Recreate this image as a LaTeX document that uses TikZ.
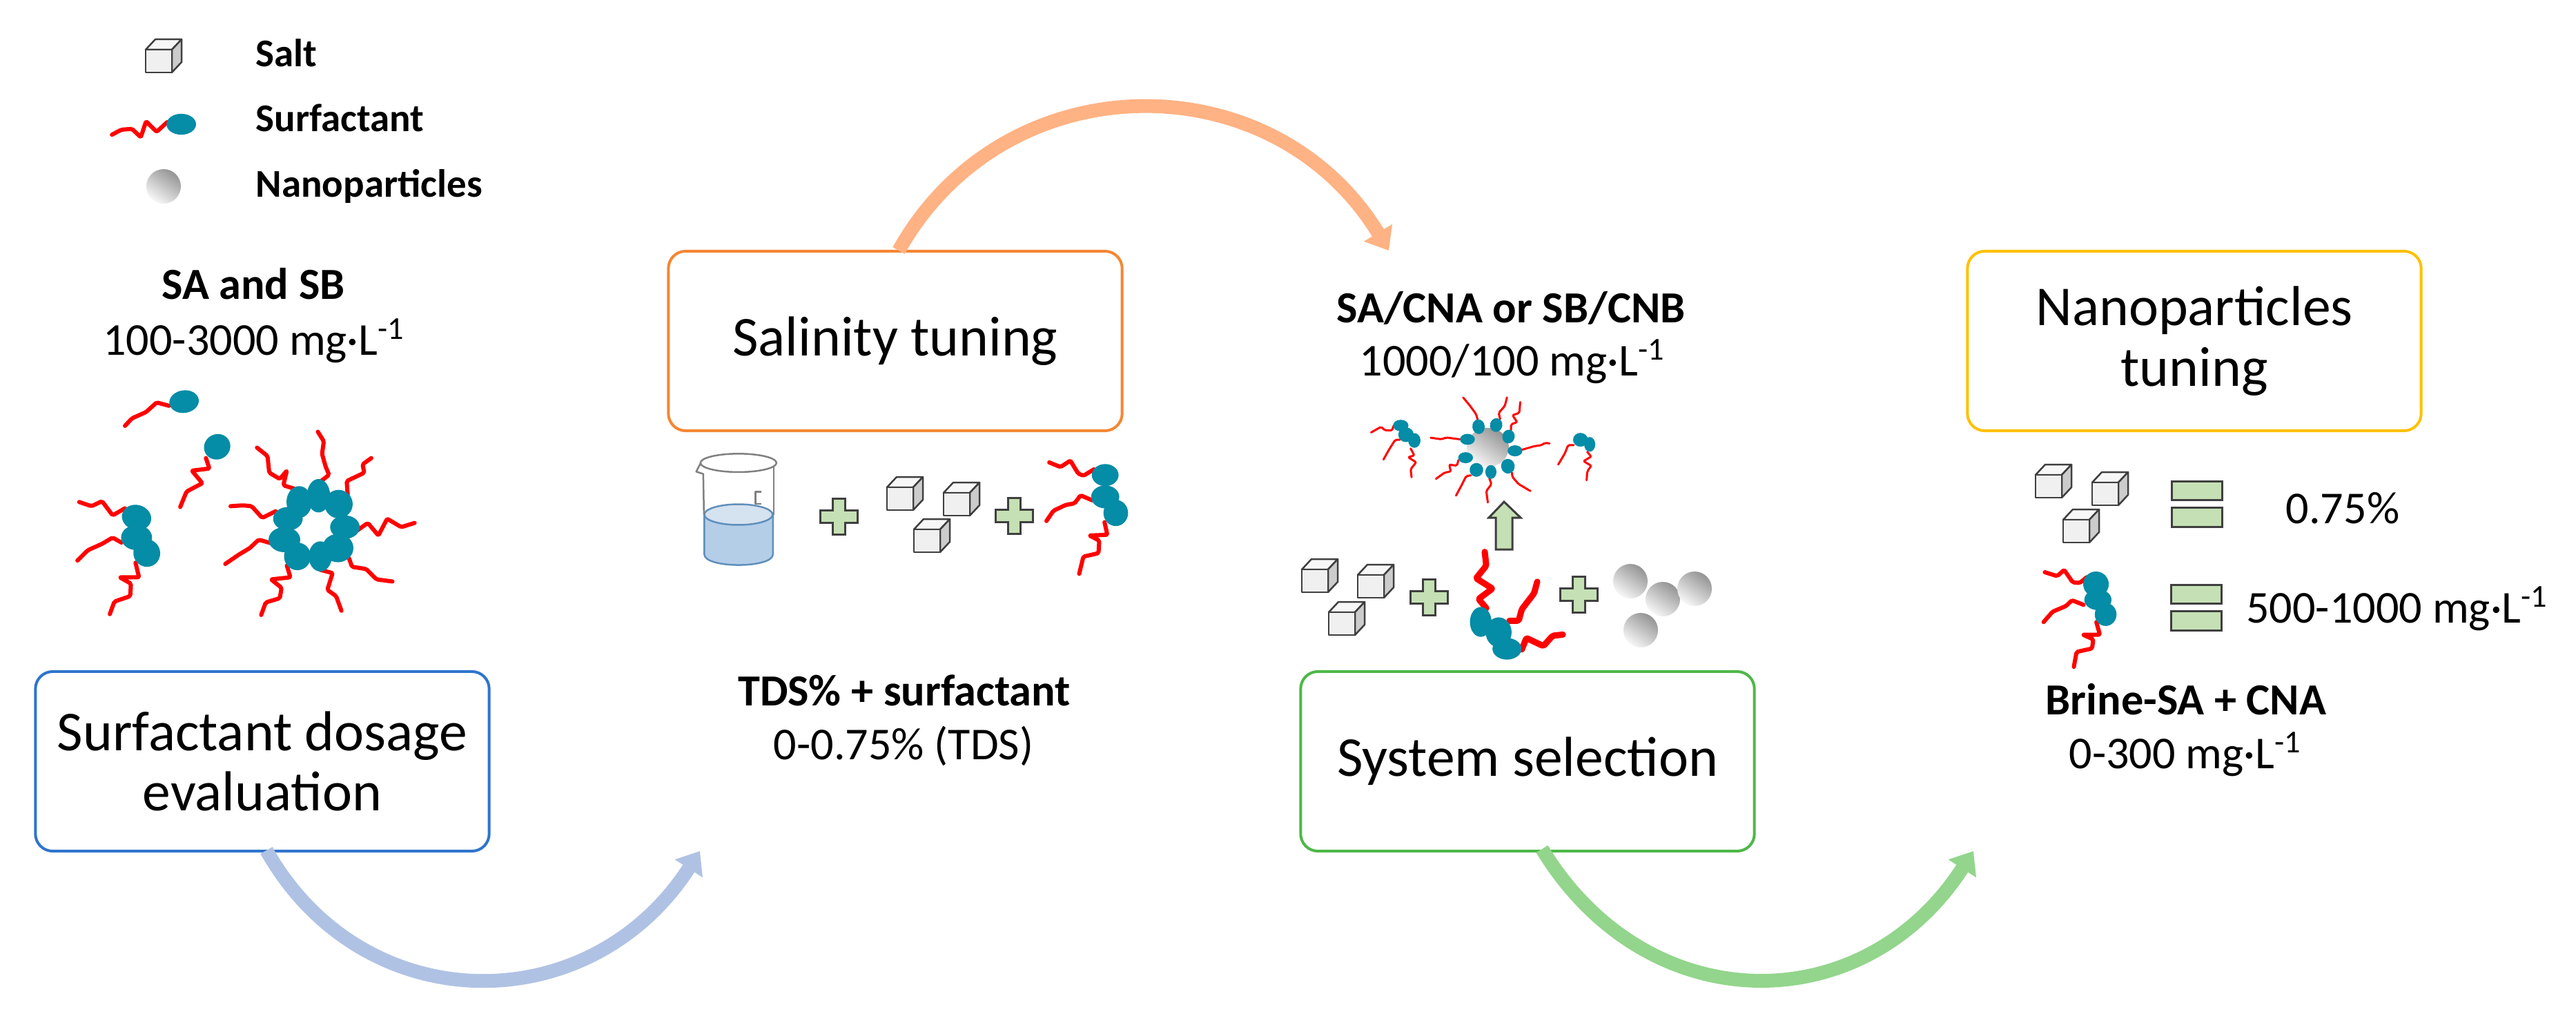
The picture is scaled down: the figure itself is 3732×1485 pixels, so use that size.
\documentclass[tikz,border=0pt]{standalone}
\usepackage{fontspec}
\setmainfont{Carlito}
\usetikzlibrary{arrows.meta,shadings}
\definecolor{headc}{HTML}{058CA6}
\definecolor{tailc}{HTML}{FF0000}
\definecolor{plusc}{HTML}{C5E0B4}
\definecolor{edgec}{HTML}{3F3F3F}
\definecolor{boxblue}{HTML}{2E75CC}
\definecolor{boxorange}{HTML}{F58633}
\definecolor{boxgreen}{HTML}{4DB848}
\definecolor{boxyellow}{HTML}{FFC000}
\definecolor{arrblue}{HTML}{B0C2E4}
\definecolor{arrorange}{HTML}{FFB283}
\definecolor{arrgreen}{HTML}{93D58C}
\definecolor{waterc}{HTML}{B4CEE8}
\definecolor{watertop}{HTML}{D5E2F0}
\definecolor{wateredge}{HTML}{5F8FBC}
\tikzset{
  zv/.style n args={4}{shift={(#1,#2)},x=#3cm,y=#4cm},
  stage/.style={draw,rounded corners=0.25cm,line width=0.04cm,fill=white,minimum width=6.57cm,minimum height=2.6cm,inner sep=0,align=center,font=\fontsize{23.2}{25}\selectfont},
  flow/.style={line width=0.2cm,-{Triangle[length=0.3cm,width=0.46cm]}},
  regtxt/.style={anchor=base,inner sep=0,font=\fontsize{18.8}{21}\selectfont},
  boldtxt/.style={anchor=base,inner sep=0,font=\fontsize{18.3}{21}\selectfont\bfseries},
  legtxt/.style={anchor=base west,inner sep=0,font=\fontsize{16.2}{19}\selectfont\bfseries},
  tail/.style={draw=tailc,line width=0.06cm,line join=round,line cap=round,rounded corners=0.02cm},
  tailfat/.style={tail,line width=0.09cm},
  tailthin/.style={tail,line width=0.03cm},
  ball/.style={left color=black!42,right color=black!3,shading angle=-35},
  plusbox/.style={fill=plusc,draw=edgec,line width=0.03cm,line join=miter},
  cubeline/.style={draw=edgec,line width=0.025cm,line join=round},
  glass/.style={draw=black!50,line width=0.025cm,line join=round},
}
\newcommand{\Hd}[5]{\fill[headc] (#1,#2) circle[x radius=#3,y radius=#4,rotate=#5];}
\newcommand{\Cube}[2]{%
  \filldraw[cubeline,fill=black!3] (#1,#2) -- ++(14,-15) -- ++(38,0) -- ++(-14,15) -- cycle;
  \filldraw[cubeline,fill=black!20] (#1+38,#2) -- ++(14,-15) -- ++(0,33) -- ++(-14,15) -- cycle;
  \filldraw[cubeline,fill=black!6] (#1,#2) rectangle ++(38,33);}
\newcommand{\PlusMark}[2]{%
  \filldraw[plusbox] (#1-9,#2-26) -- ++(18,0) -- ++(0,17) -- ++(18,0) -- ++(0,18) -- ++(-18,0) -- ++(0,17) -- ++(-18,0) -- ++(0,-17) -- ++(-18,0) -- ++(0,-18) -- ++(18,0) -- cycle;}
\begin{document}
\begin{tikzpicture}[x=0.01cm,y=-0.01cm]
\path[use as bounding box,fill=white] (0,0) rectangle (3732,1485);

% stage boxes
\node[stage,draw=boxblue] (dosage) at (380,1103) {Surfactant dosage\\evaluation};
\node[stage,draw=boxorange] (salinity) at (1297,494) {Salinity tuning};
\node[stage,draw=boxgreen] (system) at (2213,1103) {System selection};
\node[stage,draw=boxyellow] (nano) at (3179,494) {Nanoparticles\\tuning};

% flow arrows
\coordinate (a1s) at (386,1232);
\coordinate (a1e) at (1014,1233);
\coordinate (a2s) at (1302,363);
\coordinate (a2e) at (2012,363);
\coordinate (a3s) at (2234,1230);
\coordinate (a3e) at (2859,1233);
\draw[flow,draw=arrblue] (a1s) .. controls (526,1480) and (855,1480) .. (a1e);
\draw[flow,draw=arrorange] (a2s) .. controls (1456,88) and (1845,88) .. (a2e);
\draw[flow,draw=arrgreen] (a3s) .. controls (2386,1480) and (2700,1480) .. (a3e);

% legend
\Cube{211}{72}
\shade[ball] (237,270) circle[radius=25];
\node[legtxt] (lsalt) at (370,97) {Salt};
\node[legtxt] (lsurf) at (370,191) {Surfactant};
\node[legtxt] (lnano) at (370,285) {Nanoparticles};

% texts
\node[boldtxt] (t1) at (367,433) {SA and SB};
\node[regtxt] (t2) at (368,514) {100-3000 mg·L\textsuperscript{-1}};
\node[boldtxt] (t3) at (1310,1022) {TDS\% + surfactant};
\node[regtxt] (t4) at (1309,1100) {0-0.75\% (TDS)};
\node[boldtxt] (t5) at (2189,467) {SA/CNA or SB/CNB};
\node[regtxt] (t6) at (2191,544) {1000/100 mg·L\textsuperscript{-1}};
\node[boldtxt] (t7) at (3167,1035) {Brine-SA + CNA};
\node[regtxt] (t8) at (3166,1113) {0-300 mg·L\textsuperscript{-1}};
\node[regtxt] (t9) at (3394,758) {0.75\%};
\node[regtxt] (t10) at (3473,902) {500-1000 mg·L\textsuperscript{-1}};

% left column molecules
\begin{scope}[zv={0}{0}{0.005102}{-0.00606}]
\draw[tail] (318,322)--(345,310)--(375,308)--(400,328)--(415,290)--(445,315)--(475,292);
\Hd{515}{297}{42}{25}{0}
\draw[tail] (355,1018)--(375,1000)--(415,985)--(445,962)--(480,970);
\Hd{523}{960}{42}{27}{8}
\draw[tail] (512,1212)--(530,1175)--(575,1155)--(545,1125)--(595,1120)--(585,1095);
\Hd{617}{1068}{38}{30}{30}
\draw[tail] (225,1200)--(260,1210)--(290,1198)--(320,1232)--(355,1215);
\draw[tail] (220,1340)--(250,1315)--(290,1300)--(320,1285)--(345,1297);
\draw[tail] (385,1345)--(395,1380)--(340,1380)--(372,1395)--(370,1425)--(325,1438)--(312,1468);
\Hd{388}{1237}{42}{30}{-15}
\Hd{388}{1285}{44}{30}{0}
\Hd{417}{1322}{38}{33}{15}
\draw[tail] (903,1032)--(920,1055)--(915,1085)--(925,1115)--(935,1135)--(912,1150);
\draw[tail] (1055,1095)--(1030,1110)--(1035,1130)--(985,1150)--(988,1185);
\draw[tail] (730,1070)--(760,1090)--(765,1130)--(795,1145)--(815,1125)--(805,1160)--(835,1168);
\draw[tail] (655,1210)--(690,1208)--(715,1210)--(745,1238)--(783,1222);
\draw[tail] (1015,1268)--(1045,1250)--(1075,1280)--(1100,1240)--(1140,1260)--(1178,1250);
\draw[tail] (640,1348)--(680,1325)--(710,1310)--(735,1290)--(768,1298);
\draw[tail] (992,1335)--(1000,1355)--(1040,1360)--(1070,1385)--(1115,1390);
\draw[tail] (815,1352)--(825,1380)--(770,1385)--(800,1405)--(795,1430)--(755,1440)--(742,1470);
\draw[tail] (910,1362)--(945,1370)--(930,1410)--(955,1425)--(970,1460);
\Hd{905}{1185}{33}{40}{0}
\Hd{850}{1200}{36}{38}{0}
\Hd{962}{1205}{40}{34}{0}
\Hd{818}{1240}{42}{28}{0}
\Hd{980}{1260}{42}{28}{0}
\Hd{808}{1290}{45}{30}{0}
\Hd{845}{1330}{38}{33}{0}
\Hd{960}{1310}{44}{34}{0}
\Hd{910}{1330}{33}{36}{0}
\end{scope}

% beaker and salt row
\begin{scope}[zv={950}{650}{0.005102}{-0.003333}]
\fill[waterc] (138,287) -- (138,460) .. controls (138,522) and (333,522) .. (333,460) -- (333,287) -- cycle;
\draw[draw=wateredge,line width=0.025cm] (138,287) -- (138,460) .. controls (138,522) and (333,522) .. (333,460) -- (333,287);
\filldraw[fill=watertop,draw=wateredge,line width=0.025cm] (235,287) circle[x radius=97,y radius=45];
\draw[glass] (235,62) circle[x radius=108,y radius=40];
\draw[glass] (128,62) -- (115,100) -- (135,110) -- (137,287);
\draw[glass] (335,75) -- (335,287);
\draw[glass] (300,188) -- (283,188) -- (283,240) -- (300,240);
\draw[tail] (1118,60)--(1150,80)--(1178,52)--(1200,108)--(1215,118)--(1245,90);
\draw[tail] (1110,315)--(1130,270)--(1165,245)--(1190,238)--(1207,203)--(1240,225);
\draw[tail] (1275,320)--(1283,375)--(1232,378)--(1260,400)--(1258,455)--(1215,470)--(1203,545);
\Hd{1277}{115}{38}{48}{0}
\Hd{1277}{210}{40}{50}{0}
\Hd{1307}{280}{35}{57}{0}
\end{scope}
\Cube{1285}{706}
\Cube{1367}{714}
\Cube{1324}{767}
\PlusMark{1215}{748}
\PlusMark{1469}{747}

% system row
\begin{scope}[zv={1820}{520}{0.004464}{-0.003333}]
\shade[ball] (750,385) circle[x radius=68,y radius=85];
\draw[tailthin] (372,320)--(405,295)--(415,310)--(440,312)--(445,290);
\draw[tailthin] (412,438)--(430,395)--(450,352)--(465,352);
\draw[tailthin] (500,390)--(512,420)--(492,428)--(518,450)--(500,480)--(503,515);
\Hd{468}{290}{25}{25}{0}
\Hd{485}{330}{25}{32}{0}
\Hd{512}{355}{20}{32}{0}
\draw[tailthin] (670,168)--(690,200)--(712,240)--(717,265);
\draw[tailthin] (812,168)--(805,205)--(785,235)--(790,262);
\draw[tailthin] (855,188)--(852,235)--(830,245)--(845,275)--(825,285)--(825,310);
\draw[tailthin] (565,343)--(600,350)--(615,342)--(660,350);
\draw[tailthin] (862,395)--(900,380)--(925,375)--(935,365)--(950,368);
\draw[tailthin] (582,522)--(610,495)--(630,490)--(625,460)--(650,465)--(655,440);
\draw[tailthin] (647,595)--(665,550)--(680,510)--(695,507);
\draw[tailthin] (750,625)--(745,575)--(762,545)--(755,520);
\draw[tailthin] (888,575)--(850,545)--(830,515)--(828,495);
\Hd{720}{295}{20}{32}{8}
\Hd{777}{288}{20}{30}{-12}
\Hd{817}{338}{20}{30}{-12}
\Hd{684}{350}{24}{24}{0}
\Hd{838}{400}{24}{24}{0}
\Hd{678}{430}{24}{24}{0}
\Hd{713}{483}{22}{30}{-10}
\Hd{760}{492}{18}{30}{0}
\Hd{815}{467}{22}{32}{10}
\draw[tailthin] (978,460)--(1000,410)--(1010,375)--(1028,375);
\draw[tailthin] (1070,528)--(1072,490)--(1085,465)--(1060,445)--(1085,425)--(1072,405);
\Hd{1050}{352}{24}{30}{0}
\Hd{1080}{372}{18}{32}{0}
\draw[tailfat] (740,840)--(745,900)--(712,955)--(765,1000)--(720,1045)--(745,1085);
\draw[tailfat] (910,970)--(900,1020)--(860,1090)--(850,1140)--(820,1140);
\draw[tailfat] (860,1265)--(875,1215)--(930,1250)--(960,1205)--(993,1200);
\Hd{727}{1145}{35}{65}{0}
\Hd{785}{1190}{42}{65}{0}
\Hd{812}{1262}{47}{47}{0}
\end{scope}
\filldraw[plusbox] (2179,727) -- (2203,750) -- (2191,750) -- (2191,796) -- (2167,796) -- (2167,750) -- (2157,750) -- cycle;
\Cube{1886}{825}
\Cube{1967}{833}
\Cube{1925}{887}
\PlusMark{2070}{865}
\PlusMark{2287}{861}
\shade[ball] (2362,842) circle[radius=25];
\shade[ball] (2409,868) circle[radius=25];
\shade[ball] (2455,853) circle[radius=25];
\shade[ball] (2377,913) circle[radius=25];

% nanoparticles tuning row
\Cube{2949}{688}
\Cube{3031}{699}
\Cube{2989}{753}
\filldraw[plusbox] (3146,697) rectangle (3219,724);
\filldraw[plusbox] (3146,735) rectangle (3219,763);
\filldraw[plusbox] (3145,847) rectangle (3218,874);
\filldraw[plusbox] (3145,885) rectangle (3218,913);
\begin{scope}[zv={2850}{620}{0.005612}{-0.003333}]
\draw[tail] (200,628)--(232,645)--(250,618)--(272,672)--(290,675)--(308,650);
\draw[tail] (197,845)--(220,800)--(255,775)--(270,750)--(300,770);
\draw[tail] (333,845)--(342,900)--(298,900)--(325,920)--(322,960)--(282,975)--(275,1040);
\Hd{332}{680}{33}{55}{0}
\Hd{337}{748}{35}{45}{0}
\Hd{357}{812}{28}{50}{0}
\end{scope}
\end{tikzpicture}
\end{document}
